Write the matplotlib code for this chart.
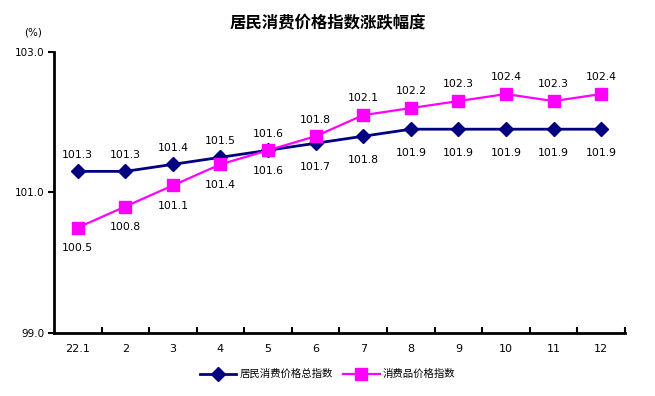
import matplotlib
matplotlib.use("Agg")
import matplotlib.pyplot as plt
from matplotlib.ticker import FixedLocator

plt.rcParams['font.family'] = ['Noto Sans CJK SC', 'DejaVu Sans']

categories = ["22.1", "2", "3", "4", "5", "6", "7", "8", "9", "10", "11", "12"]
cpi_total = [101.3, 101.3, 101.4, 101.5, 101.6, 101.7, 101.8, 101.9, 101.9, 101.9, 101.9, 101.9]
cpi_goods = [100.5, 100.8, 101.1, 101.4, 101.6, 101.8, 102.1, 102.2, 102.3, 102.4, 102.3, 102.4]
series_names = ["居民消费价格总指数", "消费品价格指数"]
title = "居民消费价格指数涨跌幅度"
yticks = [99.0, 101.0, 103.0]

fig = plt.figure(figsize=(6.55, 3.96), dpi=100)
ax = fig.add_axes([0.0824, 0.159, 0.8716, 0.710])

x = list(range(len(categories)))
ax.plot(x, cpi_total, color="#000080", lw=2, marker="D", ms=7, mfc="#000080", mec="#000080",
        label=series_names[0], zorder=3)
ax.plot(x, cpi_goods, color="#FF00FF", lw=1.6, marker="s", ms=8.5, mfc="#FF00FF", mec="#FF00FF",
        label=series_names[1], zorder=4)

lab_font = dict(family="DejaVu Sans", fontsize=7.8, color="black")
for i, v in enumerate(cpi_total):
    if i <= 4:
        ax.annotate(f"{v:.1f}", (i, v), xytext=(0, 12), textcoords="offset points",
                    ha="center", va="center", **lab_font)
    else:
        ax.annotate(f"{v:.1f}", (i, v), xytext=(0, -17), textcoords="offset points",
                    ha="center", va="center", **lab_font)
for i, v in enumerate(cpi_goods):
    if i <= 4:
        ax.annotate(f"{v:.1f}", (i, v), xytext=(0, -15), textcoords="offset points",
                    ha="center", va="center", **lab_font)
    else:
        ax.annotate(f"{v:.1f}", (i, v), xytext=(0, 12), textcoords="offset points",
                    ha="center", va="center", **lab_font)

ax.set_xlim(-0.5, len(categories) - 0.5)
ax.set_ylim(yticks[0], yticks[-1])
ax.set_yticks(yticks)
ax.set_yticklabels([f"{t:.1f}" for t in yticks], family="DejaVu Sans", fontsize=7.5)
ax.set_xticks(x)
ax.set_xticklabels(categories, family="DejaVu Sans", fontsize=8)
ax.tick_params(axis="x", which="major", length=0, pad=8)
ax.xaxis.set_minor_locator(FixedLocator([i + 0.5 for i in range(len(categories))]))
ax.tick_params(axis="x", which="minor", direction="in", length=4, width=1.5)
ax.tick_params(axis="y", direction="out", length=4, width=1.5, pad=3)

for s in ["top", "right"]:
    ax.spines[s].set_visible(False)
for s in ["left", "bottom"]:
    ax.spines[s].set_linewidth(2)

fig.text(0.05, 0.918, "(%)", family="DejaVu Sans", fontsize=7.5, ha="center", va="center")
fig.text(0.5, 0.942, title, fontsize=11.8, fontweight="bold", ha="center", va="center")

leg = fig.legend(loc="center", bbox_to_anchor=(0.5, 0.055), ncol=2, frameon=False,
                 fontsize=7.5, handlelength=3.5, columnspacing=1.0, handletextpad=0.3)

fig.savefig("out.png", dpi=100)
